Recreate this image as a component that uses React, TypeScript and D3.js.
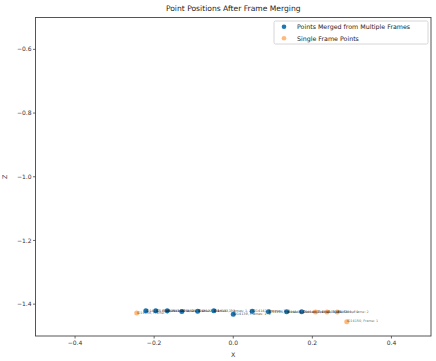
import React from "react";
import * as d3 from "d3";

// Points that were merged from several frames
const mergedX = [-0.221, -0.196, -0.167, -0.13, -0.09, -0.049, 0.0, 0.048, 0.089, 0.135, 0.173];
const mergedZ = [-1.421, -1.421, -1.421, -1.423, -1.422, -1.421, -1.432, -1.422, -1.424, -1.424, -1.424];
const mergedIds = [14102, 14108, 14115, 14121, 14127, 14133, 14139, 14142, 14144, 14146, 14148];
const mergedFrames = ["1, 2", "1, 2", "1, 2", "1, 2", "1, 2", "1, 2", "1, 2", "1, 2", "1, 2", "1, 2", "1, 2"];

// Points seen in only one frame
const singleX = [-0.244, 0.208, 0.237, 0.263, 0.287];
const singleZ = [-1.428, -1.425, -1.425, -1.425, -1.455];
const singleIds = [14136, 14147, 14149, 14151, 14150];
const singleFrames = ["1", "2", "2", "2", "1"];

const xTicks = [-0.4, -0.2, 0.0, 0.2, 0.4];
const zTicks = [-0.6, -0.8, -1.0, -1.2, -1.4];

const W = 436;
const H = 361;
const plot = { left: 35.5, right: 431, top: 17.5, bottom: 336 };

const BLUE = "#1f77b4";
const ORANGE = "#ff7f0e";
const FONT = "DejaVu Sans, sans-serif";

export default function App() {
  const x = d3.scaleLinear().domain([-0.5, 0.5]).range([plot.left, plot.right]);
  const z = d3.scaleLinear().domain([-1.5, -0.5]).range([plot.bottom, plot.top]);
  const fmt = (v: number) => d3.format(".1f")(v).replace("-", "\u2212");

  const merged = mergedX.map((v, i) => ({ x: v, z: mergedZ[i], label: `ID${mergedIds[i]}, Frames: ${mergedFrames[i]}` }));
  const single = singleX.map((v, i) => ({ x: v, z: singleZ[i], label: `ID${singleIds[i]}, Frame: ${singleFrames[i]}` }));

  return (
    <svg width={W} height={H} style={{ position: "absolute", left: 0, top: 0, background: "#fff" }} fontFamily={FONT}>
      <rect x={0} y={0} width={W} height={H} fill="#fff" />
      <text x={(plot.left + plot.right) / 2} y={11} textAnchor="middle" fontSize={7.6} fill="#222">
        Point Positions After Frame Merging
      </text>

      {/* markers */}
      {merged.map((d, i) => (
        <circle key={`m${i}`} cx={x(d.x)} cy={z(d.z)} r={2.5} fill={BLUE} />
      ))}
      {single.map((d, i) => (
        <circle key={`s${i}`} cx={x(d.x)} cy={z(d.z)} r={2.5} fill={ORANGE} fillOpacity={0.55} />
      ))}

      {/* point annotations */}
      {merged.map((d, i) => (
        <text key={`ml${i}`} x={x(d.x)} y={z(d.z) + 0.8} fontSize={3.4} fill="#111" fillOpacity={0.8}>
          {d.label}
        </text>
      ))}
      {single.map((d, i) => (
        <text key={`sl${i}`} x={x(d.x)} y={z(d.z) + 0.8} fontSize={3.4} fill="#111" fillOpacity={0.7}>
          {d.label}
        </text>
      ))}

      {/* frame */}
      <rect
        x={plot.left}
        y={plot.top}
        width={plot.right - plot.left}
        height={plot.bottom - plot.top}
        fill="none"
        stroke="#444"
        strokeWidth={0.9}
      />

      {/* x axis */}
      {xTicks.map((t) => (
        <g key={`xt${t}`}>
          <line x1={x(t)} x2={x(t)} y1={plot.bottom} y2={plot.bottom + 2.5} stroke="#444" strokeWidth={0.8} />
          <text x={x(t)} y={plot.bottom + 9} textAnchor="middle" fontSize={6} fill="#333">
            {fmt(t)}
          </text>
        </g>
      ))}
      <text x={(plot.left + plot.right) / 2} y={357} textAnchor="middle" fontSize={6.3} fill="#333">
        X
      </text>

      {/* z axis */}
      {zTicks.map((t) => (
        <g key={`zt${t}`}>
          <line x1={plot.left - 2.5} x2={plot.left} y1={z(t)} y2={z(t)} stroke="#444" strokeWidth={0.8} />
          <text x={plot.left - 4} y={z(t) + 2.1} textAnchor="end" fontSize={6} fill="#333">
            {fmt(t)}
          </text>
        </g>
      ))}
      <text
        transform={`translate(7, ${(plot.top + plot.bottom) / 2}) rotate(-90)`}
        textAnchor="middle"
        fontSize={6.3}
        fill="#333"
      >
        Z
      </text>

      {/* legend */}
      <rect x={274} y={21} width={154} height={23} fill="#fff" fillOpacity={0.8} stroke="#ccc" strokeWidth={0.8} rx={1.5} />
      <circle cx={284} cy={26.8} r={2.3} fill={BLUE} />
      <text x={297} y={29} fontSize={6.3} fill="#222">Points Merged from Multiple Frames</text>
      <circle cx={284} cy={38.3} r={2.3} fill={ORANGE} fillOpacity={0.55} />
      <text x={297} y={40.5} fontSize={6.3} fill="#222">Single Frame Points</text>
    </svg>
  );
}
